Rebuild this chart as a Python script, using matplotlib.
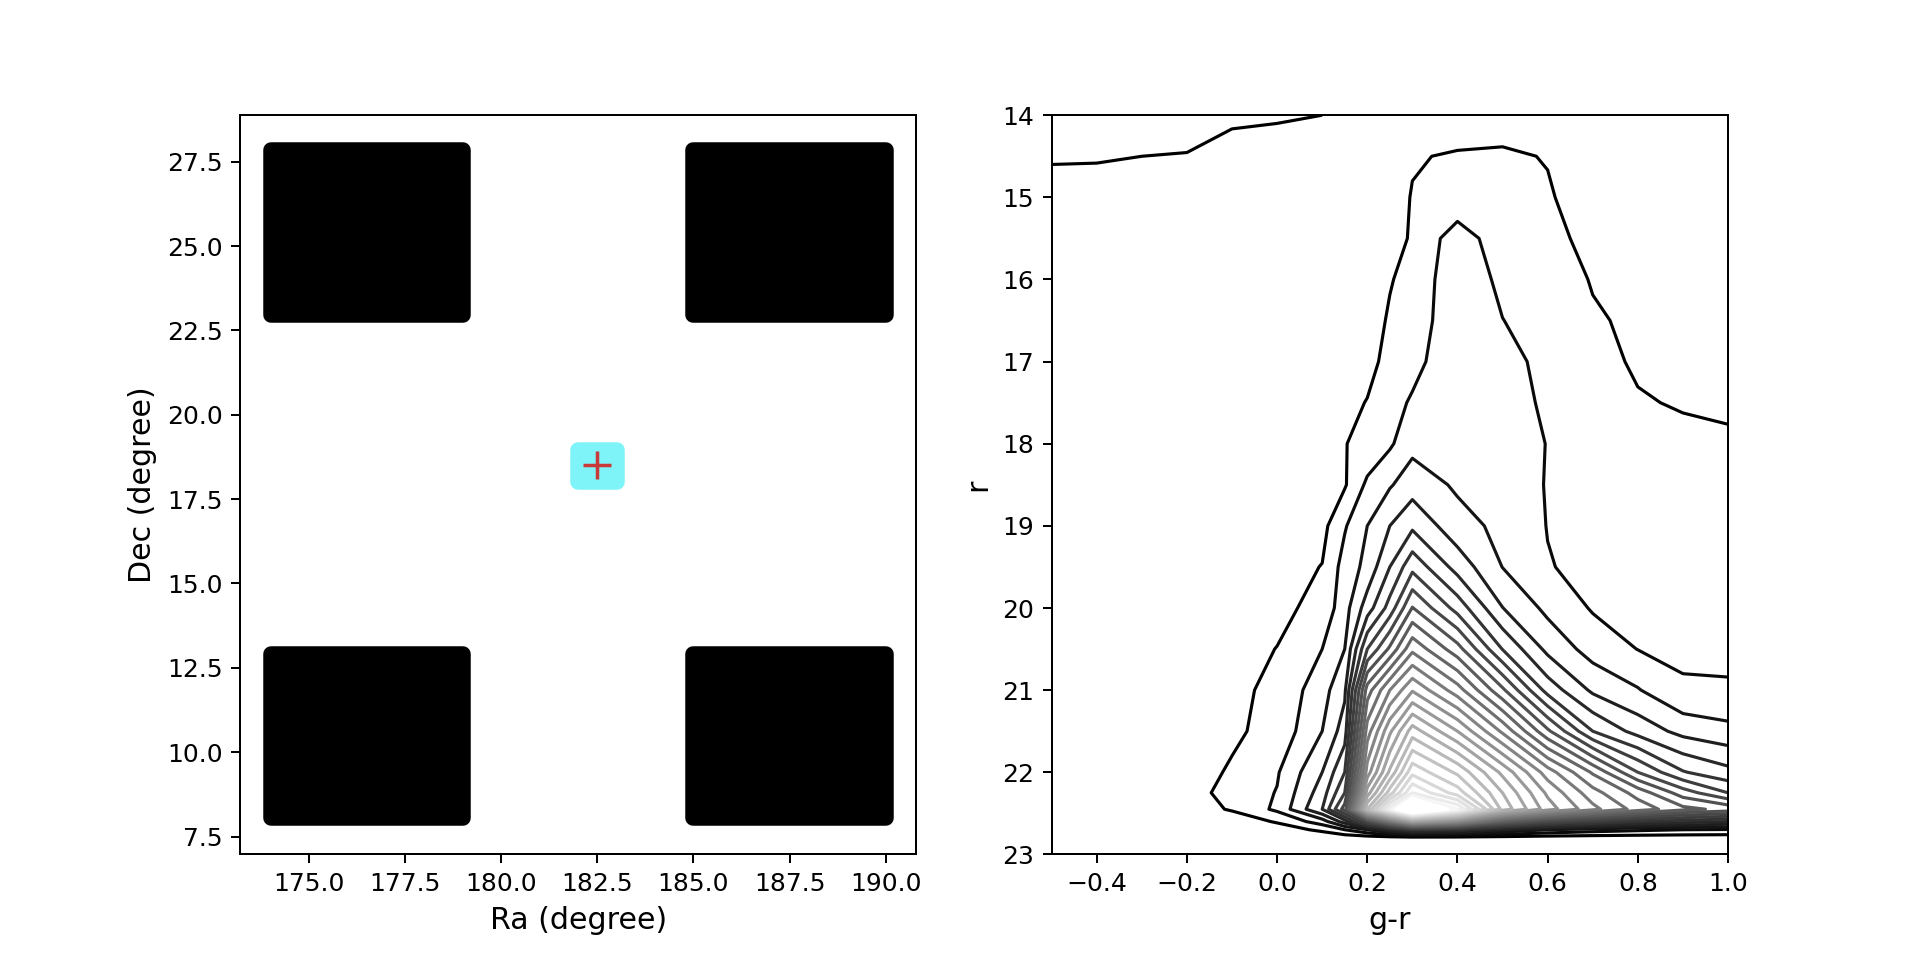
import numpy as np
import matplotlib
matplotlib.use("Agg")
import matplotlib.pyplot as plt
from matplotlib.patches import Rectangle

# ---------------- left panel: sky coverage ----------------
field_ra_min = [174.0, 185.0, 174.0, 185.0]
field_ra_max = [179.0, 190.0, 179.0, 190.0]
field_dec_min = [22.95, 22.95, 8.05, 8.05]
field_dec_max = [27.85, 27.85, 12.9, 12.9]
target_ra = [182.0, 183.0]
target_dec = [18.0, 18.95]
center_ra = [182.5]
center_dec = [18.5]

# ---------------- right panel: colour-magnitude density ----------------
color_grid = [-0.5, -0.4, -0.3, -0.2, -0.1, 0.0, 0.1, 0.15, 0.2, 0.25, 0.3,
              0.4, 0.5, 0.6, 0.7, 0.8, 0.9, 1.0]
mag_grid = [14.0, 14.5, 15.0, 15.5, 16.0, 16.5, 17.0, 17.5, 18.0, 18.5,
            19.0, 19.5, 20.0, 20.5, 21.0, 21.5, 22.0, 22.25, 22.45, 22.6,
            22.7, 22.8, 23.0]
density = [
    [1.15, 1.15, 1.12, 1.10, 1.05, 1.03, 1.00, 0.965, 0.93, 0.89, 0.85, 0.88, 0.90, 0.85, 0.80, 0.75, 0.70, 0.65],
    [1.05, 1.03, 1.00, 0.99, 0.90, 0.88, 0.87, 0.875, 0.88, 0.92, 0.985, 1.02, 1.03, 0.99, 0.85, 0.80, 0.75, 0.70],
    [0.80, 0.85, 0.83, 0.80, 0.78, 0.75, 0.75, 0.80, 0.85, 0.92, 1.01, 1.15, 1.15, 1.02, 0.90, 0.85, 0.80, 0.75],
    [0.70, 0.70, 0.70, 0.70, 0.70, 0.72, 0.75, 0.80, 0.85, 0.93, 1.02, 2.60, 1.35, 1.10, 0.90, 0.85, 0.80, 0.75],
    [0.65, 0.65, 0.65, 0.65, 0.65, 0.67, 0.72, 0.76, 0.80, 0.97, 1.15, 2.85, 1.72, 1.25, 0.97, 0.88, 0.82, 0.78],
    [0.60, 0.60, 0.60, 0.60, 0.60, 0.62, 0.70, 0.75, 0.80, 1.05, 1.30, 2.86, 2.02, 1.50, 1.05, 0.92, 0.85, 0.80],
    [0.55, 0.55, 0.55, 0.55, 0.55, 0.58, 0.68, 0.765, 0.85, 1.15, 1.60, 2.93, 2.30, 1.75, 1.20, 0.92, 0.88, 0.85],
    [0.50, 0.50, 0.50, 0.50, 0.52, 0.55, 0.70, 0.86, 1.02, 1.55, 2.15, 2.90, 2.40, 1.85, 1.35, 1.05, 0.95, 0.90],
    [0.45, 0.45, 0.45, 0.45, 0.48, 0.52, 0.70, 0.97, 1.25, 1.85, 2.70, 2.65, 2.35, 1.98, 1.60, 1.30, 1.15, 1.09],
    [0.40, 0.40, 0.40, 0.40, 0.42, 0.48, 0.65, 0.90, 2.20, 2.90, 3.55, 2.85, 2.50, 1.95, 1.70, 1.45, 1.30, 1.25],
    [0.38, 0.38, 0.38, 0.38, 0.40, 0.45, 0.70, 1.90, 3.00, 4.00, 4.80, 3.37, 2.75, 1.97, 1.60, 1.51, 1.43, 1.41],
    [0.38, 0.38, 0.38, 0.38, 0.45, 0.60, 1.03, 2.40, 3.30, 5.00, 6.70, 4.60, 2.98, 2.05, 1.76, 1.67, 1.58, 1.57],
    [0.38, 0.38, 0.38, 0.38, 0.50, 0.75, 1.30, 2.60, 4.50, 6.40, 9.05, 6.60, 4.02, 2.75, 1.91, 1.82, 1.74, 1.73],
    [0.38, 0.38, 0.38, 0.40, 0.65, 1.02, 2.00, 3.00, 7.00, 9.20, 11.75, 9.40, 5.96, 3.73, 2.59, 1.98, 1.85, 1.85],
    [0.38, 0.38, 0.40, 0.45, 0.80, 1.20, 2.60, 3.80, 10.50, 13.00, 14.90, 12.45, 9.20, 5.60, 3.81, 3.07, 2.10, 2.07],
    [0.38, 0.38, 0.40, 0.50, 0.85, 1.30, 3.00, 4.50, 12.50, 15.80, 18.50, 16.00, 12.80, 9.20, 6.00, 4.63, 3.68, 3.30],
    [0.38, 0.38, 0.42, 0.62, 1.10, 1.90, 4.00, 6.00, 14.50, 18.20, 21.70, 19.80, 16.75, 13.50, 10.86, 8.00, 6.08, 5.30],
    [0.38, 0.38, 0.42, 0.65, 1.30, 2.05, 4.50, 7.00, 16.50, 20.50, 24.00, 21.50, 18.00, 14.80, 12.40, 10.60, 8.50, 7.00],
    [0.35, 0.35, 0.40, 0.50, 1.10, 2.20, 5.00, 8.50, 19.00, 24.50, 30.00, 25.00, 18.70, 15.50, 13.30, 11.60, 10.30, 9.70],
    [0.30, 0.30, 0.30, 0.30, 0.40, 1.10, 2.50, 4.50, 8.00, 12.00, 16.00, 14.00, 10.00, 8.00, 7.00, 6.00, 5.50, 5.00],
    [0.30, 0.30, 0.30, 0.30, 0.30, 0.50, 1.20, 2.00, 3.00, 4.50, 6.00, 5.50, 4.00, 3.00, 2.50, 2.20, 2.00, 1.90],
    [0.30, 0.30, 0.30, 0.30, 0.30, 0.30, 0.30, 0.35, 0.40, 0.40, 0.40, 0.40, 0.40, 0.40, 0.40, 0.40, 0.40, 0.40],
    [0.20, 0.20, 0.20, 0.20, 0.20, 0.20, 0.20, 0.20, 0.20, 0.20, 0.20, 0.20, 0.20, 0.20, 0.20, 0.20, 0.20, 0.20],
]
contour_levels = list(range(1, 30))

ra_ticks = [175.0, 177.5, 180.0, 182.5, 185.0, 187.5, 190.0]
dec_ticks = [7.5, 10.0, 12.5, 15.0, 17.5, 20.0, 22.5, 25.0, 27.5]
gr_ticks = [-0.4, -0.2, 0.0, 0.2, 0.4, 0.6, 0.8, 1.0]
r_ticks = [14, 15, 16, 17, 18, 19, 20, 21, 22, 23]

plt.rcParams["font.family"] = ["DejaVu Sans"]
plt.rcParams["font.size"] = 10

fig, (ax1, ax2) = plt.subplots(1, 2, figsize=(1920 / 180, 960 / 180), dpi=180)

for x0, x1, y0, y1 in zip(field_ra_min, field_ra_max, field_dec_min, field_dec_max):
    ax1.add_patch(Rectangle((x0, y0), x1 - x0, y1 - y0, facecolor="black",
                            edgecolor="black", linewidth=6.2, joinstyle="round"))
ax1.add_patch(Rectangle((target_ra[0], target_dec[0]), target_ra[1] - target_ra[0],
                        target_dec[1] - target_dec[0], facecolor="#7ff4f8",
                        edgecolor="#7ff4f8", linewidth=6.2, joinstyle="round"))
ax1.plot(center_ra, center_dec, "+", color="#c83a3a", markersize=11.5, markeredgewidth=1.4)
ax1.set_xlim(173.2, 190.8)
ax1.set_ylim(6.97, 28.88)
ax1.set_xticks(ra_ticks)
ax1.set_yticks(dec_ticks)
ax1.set_xlabel("Ra (degree)", fontsize=12)
ax1.set_ylabel("Dec (degree)", fontsize=12)

X, Y = np.meshgrid(np.array(color_grid), np.array(mag_grid))
ax2.contour(X, Y, np.array(density), levels=contour_levels, cmap="gray",
            vmin=1, vmax=26, linewidths=1.25)
ax2.set_xlim(-0.5, 1.0)
ax2.set_ylim(23, 14)
ax2.set_xticks(gr_ticks)
ax2.set_yticks(r_ticks)
ax2.set_xlabel("g-r", fontsize=12)
ax2.set_ylabel("r", fontsize=12)

fig.savefig("out.png", dpi=180)
